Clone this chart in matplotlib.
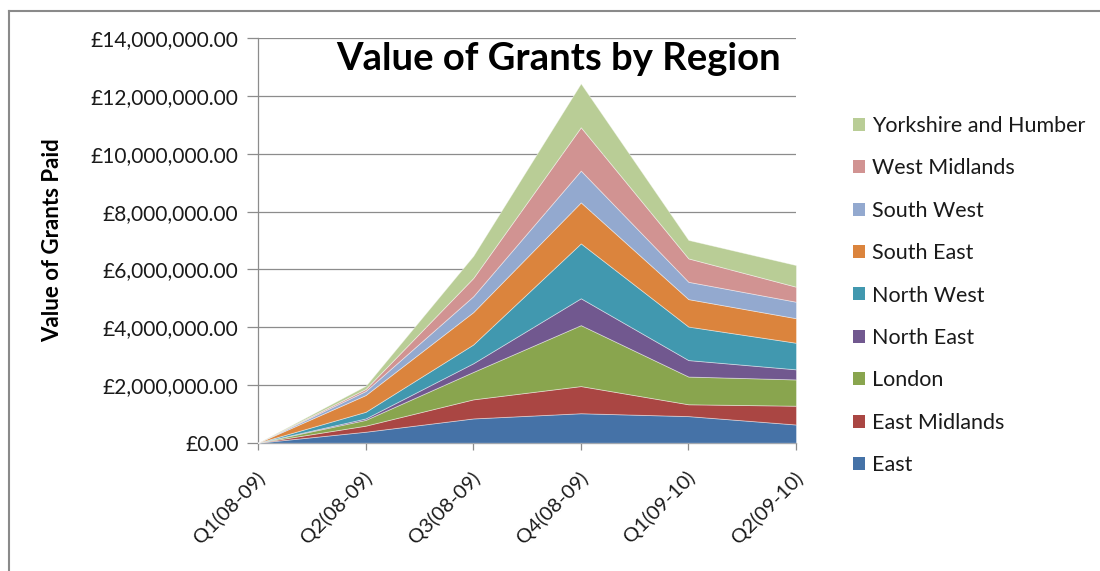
import numpy as np
import matplotlib
matplotlib.use("Agg")
import matplotlib.pyplot as plt
from matplotlib.lines import Line2D
from matplotlib.patches import Patch
from matplotlib.ticker import FuncFormatter, MultipleLocator
import matplotlib.transforms as mtransforms

# ---- data (values in £) ----
quarters = ["Q1(08-09)", "Q2(08-09)", "Q3(08-09)", "Q4(08-09)", "Q1(09-10)", "Q2(09-10)"]
regions = ["East", "East Midlands", "London", "North East", "North West",
           "South East", "South West", "West Midlands", "Yorkshire and Humber"]
east = [0, 380000, 840000, 1020000, 920000, 630000]
east_midlands = [0, 210000, 660000, 940000, 410000, 650000]
london = [0, 200000, 950000, 2110000, 960000, 910000]
north_east = [0, 50000, 300000, 930000, 570000, 350000]
north_west = [0, 230000, 650000, 1900000, 1160000, 920000]
south_east = [0, 580000, 1120000, 1420000, 950000, 850000]
south_west = [0, 140000, 550000, 1100000, 600000, 570000]
west_midlands = [0, 70000, 630000, 1500000, 810000, 520000]
yorkshire_humber = [0, 110000, 770000, 1520000, 640000, 750000]

series = [east, east_midlands, london, north_east, north_west,
          south_east, south_west, west_midlands, yorkshire_humber]
colors = ["#4572A7", "#AA4643", "#89A54E", "#71588F", "#4198AF",
          "#DB843D", "#93A9CF", "#D19392", "#B9CD96"]

W, H = 1100, 571
fig = plt.figure(figsize=(W / 100, H / 100), dpi=100)
plt.rcParams['font.family'] = ['Lato', 'DejaVu Sans']

ax = fig.add_axes([258 / W, 1 - 442.7 / H, (796 - 258) / W, (442.7 - 38.3) / H])
x = np.arange(len(quarters))
ax.stackplot(x, *series, colors=colors, labels=regions,
             edgecolor=(1, 1, 1, 0.45), linewidth=0.6, zorder=3)

ax.set_xlim(0, len(quarters) - 1)
ax.set_ylim(0, 14e6)
ax.yaxis.set_major_locator(MultipleLocator(2e6))
ax.yaxis.set_major_formatter(FuncFormatter(lambda v, p: "£{:,.2f}".format(v)))
ax.grid(axis='y', color='#8c8c8c', linewidth=0.9, zorder=0)
ax.set_axisbelow(True)
for s in ['top', 'right']:
    ax.spines[s].set_visible(False)
for s in ['left', 'bottom']:
    ax.spines[s].set_color('#8c8c8c')
    ax.spines[s].set_linewidth(0.9)

ax.tick_params(axis='y', length=8, width=0.9, color='#8c8c8c', pad=6,
               labelsize=15, labelcolor='#1a1a1a')
ax.set_xticks(x)
ax.set_xticklabels(quarters)
ax.tick_params(axis='x', length=5, width=0.9, color='#8c8c8c', pad=18,
               labelsize=14.5, labelcolor='#1a1a1a')
offset = mtransforms.ScaledTranslation(4 / 100, 0, fig.dpi_scale_trans)
for lab in ax.get_xticklabels():
    lab.set_rotation(45)
    lab.set_ha('right')
    lab.set_va('center')
    lab.set_rotation_mode('anchor')
    lab.set_transform(lab.get_transform() + offset)

# title inside plot
fig.text(559 / W, 1 - 70 / H, "Value of Grants by Region", ha='center', va='baseline',
         fontsize=27.5, fontweight='bold', color='black')

# y label
fig.text(53 / W, 1 - 240 / H, "Value of Grants Paid", rotation=90, ha='center', va='center',
         fontsize=16, fontweight='bold', color='black')

# legend (reverse order, as in reference)
handles = [Patch(facecolor=c, edgecolor='none') for c in colors][::-1]
fig.legend(handles, regions[::-1], loc='upper left',
           bbox_to_anchor=(853 / W, 1 - 116 / H), bbox_transform=fig.transFigure,
           frameon=False, fontsize=15.5, handlelength=0.55, handleheight=0.55,
           handletextpad=0.35, labelspacing=1.04, borderpad=0, borderaxespad=0,
           labelcolor='#1a1a1a')

# chart area border (top and left)
fig.add_artist(Line2D([9 / W, 1.0], [1 - 11 / H, 1 - 11 / H], transform=fig.transFigure,
                      color='#8a8a8a', linewidth=1.5))
fig.add_artist(Line2D([9 / W, 9 / W], [1 - 11 / H, 0], transform=fig.transFigure,
                      color='#8a8a8a', linewidth=1.5))

fig.savefig("out.png", dpi=100)
